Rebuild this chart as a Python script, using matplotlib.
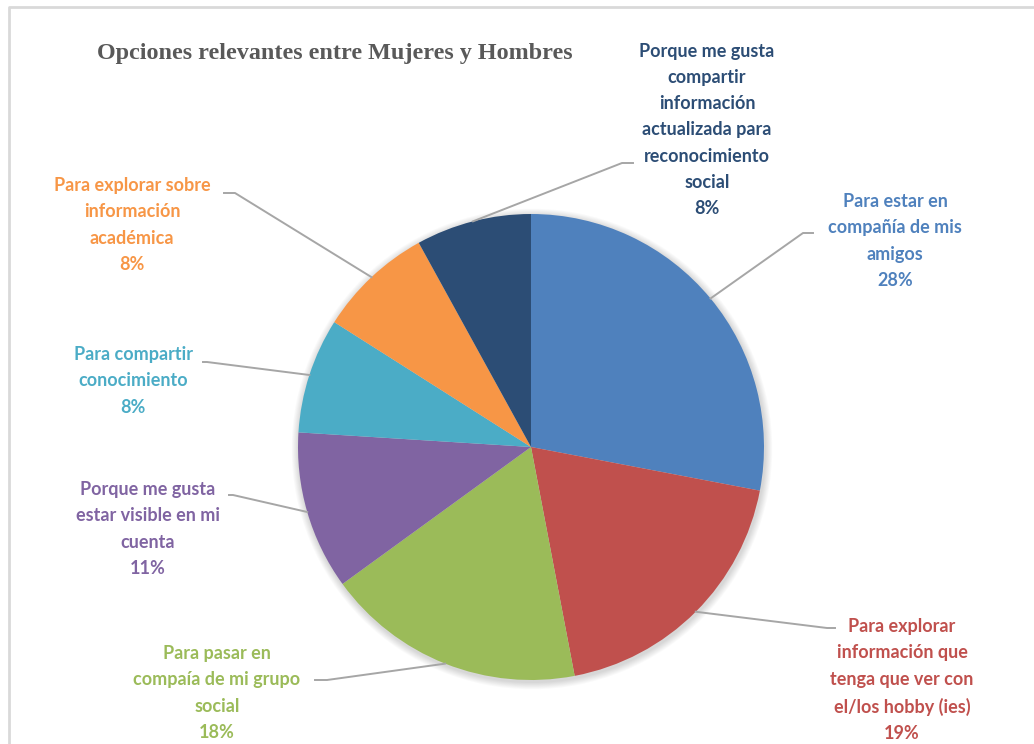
import matplotlib
matplotlib.use('Agg')
import matplotlib.pyplot as plt
import numpy as np

title = "Opciones relevantes entre Mujeres y Hombres"
categories = [
    "Para estar en\ncompañía de mis\namigos",
    "Para explorar\ninformación que\ntenga que ver con\nel/los hobby (ies)",
    "Para pasar en\ncompaía de mi grupo\nsocial",
    "Porque me gusta\nestar visible en mi\ncuenta",
    "Para compartir\nconocimiento",
    "Para explorar sobre\ninformación\nacadémica",
    "Porque me gusta\ncompartir\ninformación\nactualizada para\nreconocimiento\nsocial",
]
values = [28, 19, 18, 11, 8, 8, 8]
pct_labels = ["28%", "19%", "18%", "11%", "8%", "8%", "8%"]
colors = ["#4F81BD", "#C0504D", "#9BBB59", "#8064A2", "#4BACC6", "#F79646", "#2C4D75"]
text_colors = ["#4F81BD", "#C0504D", "#9BBB59", "#8064A2", "#4BACC6", "#F79646", "#2C4D75"]

W, H = 1034, 744
fig = plt.figure(figsize=(W / 100, H / 100), dpi=100)
ax = fig.add_axes([0, 0, 1, 1])

def Y(y):
    return H - y

cx, cy, r = 531, Y(447), 233

# soft shadow
for i in range(8):
    circ = plt.Circle((cx + 1, cy - 2), r + 1 + i * 0.9, color='#000000', alpha=0.018, lw=0)
    ax.add_patch(circ)

wedges, _ = ax.pie(values, colors=colors, startangle=90, counterclock=False,
                   center=(cx, cy), radius=r, wedgeprops=dict(linewidth=0, edgecolor='none'))
ax.set_xlim(0, W)
ax.set_ylim(0, H)
ax.set_aspect('equal')
ax.axis('off')

# border (top and left visible)
ax.plot([8.5, 8.5, W + 10], [-10, Y(7), Y(7)], color="#D9D9D9", lw=2, solid_capstyle='butt')

# label layout: (text center x, text center y, leader start x, leader start y, elbow x)
label_layout = [
    (895, 241, 813, 233, 803),
    (902, 680, 835, 628, 827),
    (217, 693, 315, 680, 327),
    (148, 529, 229, 495, 233),
    (133, 381, 203, 362, 207),
    (132, 225, 224, 193, 235),
    (707, 130, 633, 163, 622),
]

font = 'Lato'
for w, cat, pct, tc, (tx, ty, lx, ly, ex) in zip(wedges, categories, pct_labels, text_colors, label_layout):
    mid = np.deg2rad((w.theta1 + w.theta2) / 2)
    px = cx + r * np.cos(mid)
    py = cy + r * np.sin(mid)
    ax.plot([lx, ex, px], [Y(ly), Y(ly), py], color="#A6A6A6", lw=1.4, zorder=1)
    ax.text(tx, Y(ty), cat + "\n" + pct, ha='center', va='center', color=tc,
            fontsize=13, fontweight='bold', family=font, linespacing=1.66)

ax.text(335, Y(53), title, ha='center', va='center', color="#595959",
        fontsize=17.4, fontweight='bold', family='Liberation Serif')

fig.savefig('out.png', dpi=100)
